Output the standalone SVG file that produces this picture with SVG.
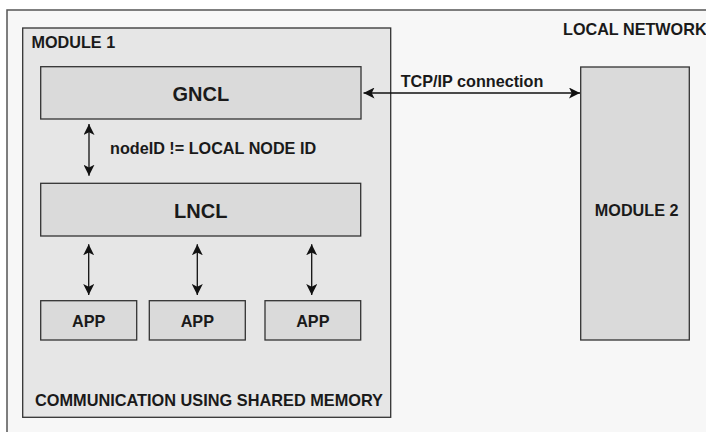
<svg xmlns="http://www.w3.org/2000/svg" width="706" height="432" viewBox="0 0 706 432">
<defs>
<style>
.lbl{font-family:"Liberation Sans",Arial,Helvetica,sans-serif;font-weight:bold;fill:#1a1a1a}
.s16{font-size:16.2px}
.s20{font-size:20px}
.box{fill:#dadada;stroke:#333;stroke-width:1.3}
.conn{fill:none;stroke:#111;stroke-width:1.3}
</style>
<marker id="ah" viewBox="0 0 10 10" refX="10" refY="5" markerWidth="11" markerHeight="11" markerUnits="userSpaceOnUse" orient="auto-start-reverse">
<path d="M0,0 L10,5 L0,10 L2.5,5 Z" fill="#111"/>
</marker>
</defs>
<rect x="0" y="0" width="706" height="432" fill="#ffffff"/>
<g id="local-network">
<rect x="7" y="10" width="710" height="440" fill="#f7f7f7" stroke="#555" stroke-width="1.5"/>
<text class="lbl s16" x="563" y="35">LOCAL NETWORK</text>
</g>
<g id="module1">
<rect x="22.7" y="28" width="368" height="389.3" fill="#e6e6e6" stroke="#333" stroke-width="1.3"/>
<text class="lbl s16" x="31.5" y="47.5">MODULE 1</text>
<text class="lbl s16" x="35" y="406" textLength="348" lengthAdjust="spacingAndGlyphs">COMMUNICATION USING SHARED MEMORY</text>
</g>
<g id="gncl">
<rect class="box" x="40.7" y="66.7" width="320.3" height="52.3"/>
<text class="lbl s20" x="200.8" y="100.5" text-anchor="middle">GNCL</text>
</g>
<g id="lncl">
<rect class="box" x="40.7" y="183.3" width="320" height="52.7"/>
<text class="lbl s20" x="200.7" y="217.5" text-anchor="middle">LNCL</text>
</g>
<g id="app1">
<rect class="box" x="40.7" y="300.7" width="96" height="39.3"/>
<text class="lbl s16" x="88.7" y="326.5" text-anchor="middle">APP</text>
</g>
<g id="app2">
<rect class="box" x="149.3" y="300.7" width="96" height="39.3"/>
<text class="lbl s16" x="197.3" y="326.5" text-anchor="middle">APP</text>
</g>
<g id="app3">
<rect class="box" x="265" y="300.7" width="95.7" height="39.3"/>
<text class="lbl s16" x="312.8" y="326.5" text-anchor="middle">APP</text>
</g>
<g id="module2">
<rect class="box" x="580.7" y="67" width="108.6" height="273"/>
<text class="lbl s16" x="636.7" y="215.5" text-anchor="middle">MODULE 2</text>
</g>
<g id="connectors">
<line class="conn" x1="363.5" y1="93" x2="580" y2="93" marker-start="url(#ah)" marker-end="url(#ah)"/>
<text class="lbl s16" x="400.7" y="87">TCP/IP connection</text>
<line class="conn" x1="89" y1="124" x2="89" y2="175.7" marker-start="url(#ah)" marker-end="url(#ah)"/>
<text class="lbl s16" x="110" y="154.3">nodeID != LOCAL NODE ID</text>
<line class="conn" x1="88.7" y1="244.3" x2="88.7" y2="295" marker-start="url(#ah)" marker-end="url(#ah)"/>
<line class="conn" x1="197.3" y1="244.3" x2="197.3" y2="295" marker-start="url(#ah)" marker-end="url(#ah)"/>
<line class="conn" x1="311.7" y1="244.3" x2="311.7" y2="295" marker-start="url(#ah)" marker-end="url(#ah)"/>
</g>
</svg>
